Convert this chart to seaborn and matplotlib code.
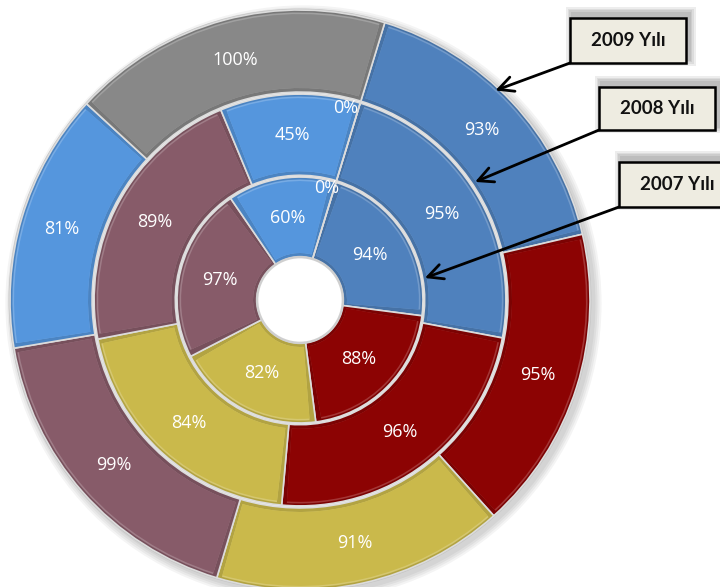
import numpy as np
import matplotlib
matplotlib.use("Agg")
import matplotlib.pyplot as plt
from matplotlib.patches import Wedge, Rectangle, Circle
import seaborn as sns

# ---- data -------------------------------------------------------------
categories = ["Grup 1", "Grup 2", "Grup 3", "Grup 4", "Grup 5", "Grup 6"]
years = ["2007 Yılı", "2008 Yılı", "2009 Yılı"]
rates_2007 = [94, 88, 82, 97, 60, 0]
rates_2008 = [95, 96, 84, 89, 45, 0]
rates_2009 = [93, 95, 91, 99, 81, 100]
series = [rates_2007, rates_2008, rates_2009]

palette = sns.color_palette(["#4F81BD", "#8C0303", "#CAB94B",
                             "#875B69", "#5596DD", "#888888"])

# ---- style ------------------------------------------------------------
sns.set_theme(style="white")
plt.rcParams["font.family"] = ["Open Sans", "DejaVu Sans"]

W, H = 720, 587
fig = plt.figure(figsize=(W / 100, H / 100), dpi=100)
ax = fig.add_axes([0, 0, 1, 1])

# geometry (one data unit = outer radius of the chart)
ring_outer = [0.424, 0.710, 1.000]
ring_width = [0.276, 0.280, 0.283]
start_angle = 90 - 17          # first slice starts 17 deg right of 12 o'clock


def shade(c, f):
    c = np.array(c)
    if f >= 0:
        return tuple(c + (1 - c) * f)
    return tuple(c * (1 + f))


# soft drop shadow under the whole doughnut
for k in range(4):
    ax.add_patch(Circle((0.012, -0.012), 1.0 + 0.007 * (k + 1),
                        color="black", alpha=0.045, lw=0, zorder=0))
ax.add_patch(Circle((0, 0), 1.005, color="#c4c4c4", lw=0, zorder=0.5))
ax.add_patch(Circle((0, 0), 0.995, color="#f0f0f0", lw=0, zorder=0.6))

for vals, r, w in zip(series, ring_outer, ring_width):
    wedges, _ = ax.pie(vals, radius=r, startangle=start_angle,
                       counterclock=False, colors=palette,
                       wedgeprops=dict(width=w, edgecolor="#dcdcdc",
                                       linewidth=1.2))
    for wd, v, col in zip(wedges, vals, palette):
        wd.set_zorder(1)
        t1, t2 = wd.theta1, wd.theta2
        rm = r - w / 2
        if v > 0:
            # bevelled look: a shaded rim with the base colour inset
            wd.set_facecolor(shade(col, -0.12))
            d = 0.014
            dang = np.degrees(d / rm)
            ax.add_patch(Wedge((0, 0), r - d * 0.6, t1 + dang, t2 - dang,
                               width=w - 1.6 * d, facecolor=shade(col, 0.2),
                               edgecolor="none", zorder=1.5))
            ax.add_patch(Wedge((0, 0), r - d, t1 + dang, t2 - dang,
                               width=w - 2 * d, facecolor=col,
                               edgecolor="none", zorder=2))
            mid = np.radians((t1 + t2) / 2)
            ax.text(rm * np.cos(mid), rm * np.sin(mid), f"{v}%",
                    ha="center", va="center", color="white",
                    fontsize=13, zorder=5)
        else:
            ang = np.radians(t1 + 3.5)
            rr = r - 0.028
            ax.text(rr * np.cos(ang), rr * np.sin(ang), f"{v}%",
                    ha="center", va="center", color="white",
                    fontsize=13, zorder=5)

# white hole with a faint rim
ax.add_patch(Circle((0, 0), 0.148, facecolor="white",
                    edgecolor="#cfcfcf", lw=1.8, zorder=3))

# ---- year call-outs ----------------------------------------------------
def px(x, y):
    return (x - 300) / 290, (300 - y) / 290

box_px = [(619, 162, 117, 45), (599, 87, 116, 43), (570, 18, 116, 45)]
arrow_tip = [(80, 0.437), (56, 0.728), (43, 0.988)]  # (deg from top, radius)

for year, (bx, by, bw, bh), (ang, rad) in zip(years, box_px, arrow_tip):
    x0, y1 = px(bx, by)
    x1, y0 = px(bx + bw, by + bh)
    # shadow
    for k in range(4):
        g = 0.006 * (k + 1)
        ax.add_patch(Rectangle((x0 + 0.01 - g, y0 + 0.014 - g),
                               (x1 - x0) + 2 * g, (y1 - y0) + 2 * g,
                               color="black", alpha=0.07, lw=0, zorder=6,
                               clip_on=False))
    ax.add_patch(Rectangle((x0, y0), x1 - x0, y1 - y0, facecolor="#EEECE1",
                           edgecolor="black", lw=1.8, zorder=7,
                           clip_on=False))
    ax.text((x0 + x1) / 2, (y0 + y1) / 2, year, ha="center", va="center",
            fontsize=13.5, fontweight="bold", family=["Lato", "DejaVu Sans"],
            color="#111111", zorder=8)
    a = np.radians(ang)
    ax.annotate("", xy=(rad * np.sin(a), rad * np.cos(a)), xytext=(x0, y0),
                arrowprops=dict(arrowstyle="->,head_length=0.9,head_width=0.45",
                                lw=2.0, color="black", shrinkA=0, shrinkB=0),
                zorder=9)

ax.set_xlim(-300 / 290, 420 / 290)
ax.set_ylim(-287 / 290, 300 / 290)
ax.set_aspect("equal")
ax.axis("off")

fig.savefig("out.png", dpi=100)
